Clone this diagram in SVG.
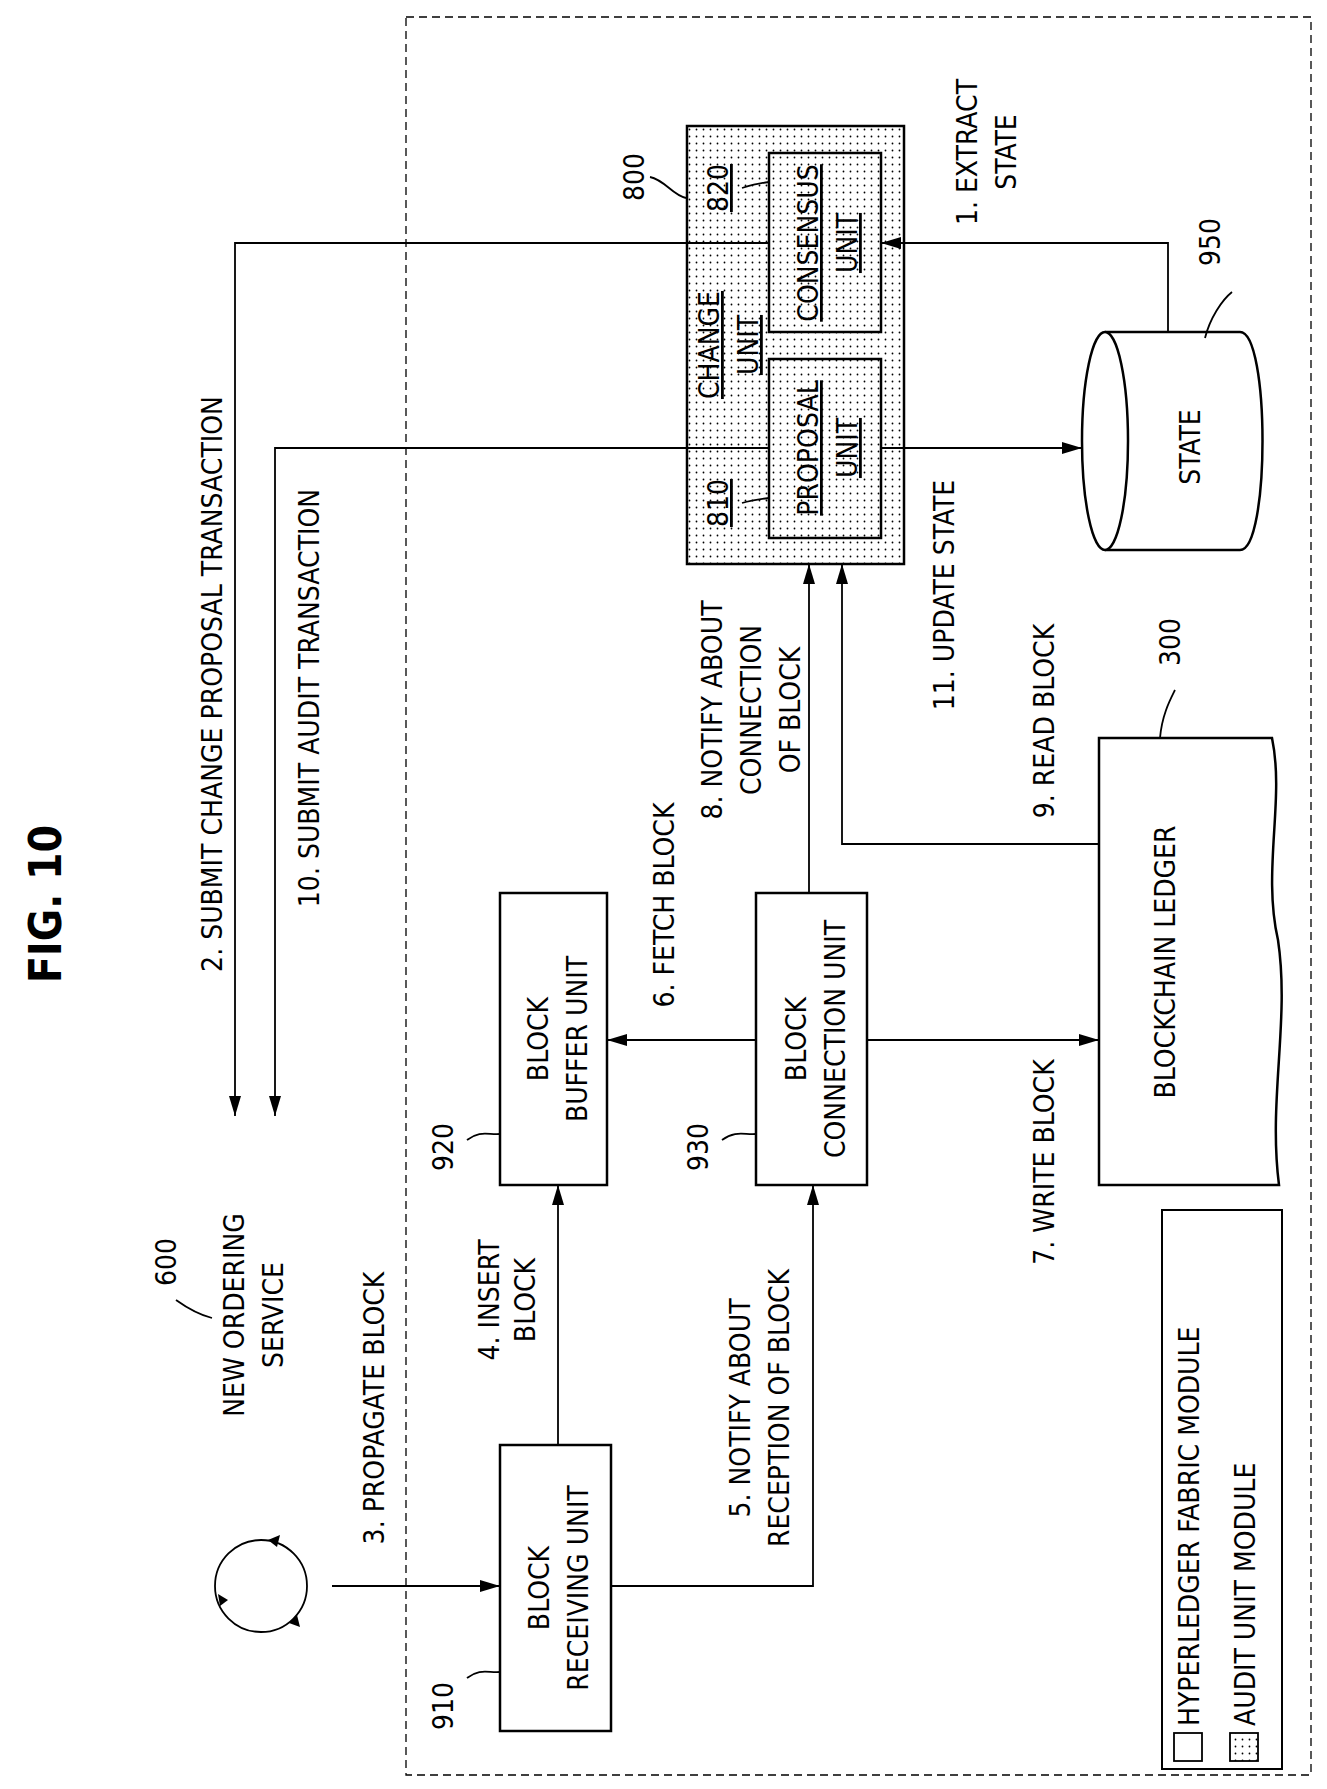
<svg xmlns="http://www.w3.org/2000/svg" width="1327" height="1789" viewBox="0 0 1327 1789">
<style>
.b{fill:none;stroke:#000;stroke-width:2.5}
.w{fill:#fff;stroke:#000;stroke-width:2.5}
.l{fill:none;stroke:#000;stroke-width:1.8}
.t{font-family:"DejaVu Sans Condensed","DejaVu Sans",sans-serif;font-size:28px;fill:#000;text-anchor:middle}
.u{text-decoration:underline}
</style>
<defs>
<pattern id="dots" width="7" height="7" patternUnits="userSpaceOnUse"><rect width="7" height="7" fill="#fff"/><circle cx="3.5" cy="3.5" r="0.9" fill="#000"/></pattern>
<marker id="A" viewBox="0 0 10 10" refX="10" refY="5" markerWidth="20" markerHeight="20" orient="auto" markerUnits="userSpaceOnUse"><path d="M0,2 L10,5 L0,8 z" fill="#000"/></marker>
</defs>
<rect x="0" y="0" width="1327" height="1789" fill="#fff"/>
<rect x="406" y="17" width="905" height="1758" fill="none" stroke="#000" stroke-width="1.3" stroke-dasharray="8,5"/>
<text class="t" style="font-size:44px;font-weight:bold" transform="translate(61,904) rotate(-90)">FIG. 10</text>

<g id="n800">
<rect x="687" y="126" width="217" height="438" fill="url(#dots)" stroke="#000" stroke-width="2.5"/>
<text class="t u" transform="translate(719,345) rotate(-90)">CHANGE</text>
<text class="t u" transform="translate(758,345) rotate(-90)">UNIT</text>
<text class="t u" transform="translate(728,188) rotate(-90)">820</text>
<text class="t u" transform="translate(728,503) rotate(-90)">810</text>
<path class="l" d="M650,177 C665,180 672,195 686,198"/>
<text class="t" transform="translate(644,177) rotate(-90)">800</text>
</g>
<g id="n820">
<rect x="769" y="153" width="112" height="179" fill="url(#dots)" stroke="#000" stroke-width="2.5"/>
<text class="t u" transform="translate(818,243) rotate(-90)">CONSENSUS</text>
<text class="t u" transform="translate(857,243) rotate(-90)">UNIT</text>
<path class="l" d="M742,188 C752,185 760,183 769,182"/>
</g>
<g id="n810">
<rect x="769" y="359" width="112" height="179" fill="url(#dots)" stroke="#000" stroke-width="2.5"/>
<text class="t u" transform="translate(818,448) rotate(-90)">PROPOSAL</text>
<text class="t u" transform="translate(857,448) rotate(-90)">UNIT</text>
<path class="l" d="M742,503 C752,500 760,499 769,498"/>
</g>

<g id="n950">
<path class="w" d="M1105,332 L1240,332 C1270,332 1270,550 1240,550 L1105,550"/>
<ellipse class="w" cx="1105" cy="441" rx="23" ry="109"/>
<text class="t" transform="translate(1200,447) rotate(-90)">STATE</text>
<path class="l" d="M1205,338 C1210,318 1222,300 1232,292"/>
<text class="t" transform="translate(1220,242) rotate(-90)">950</text>
</g>

<g id="n300">
<path class="w" d="M1099,738 L1272,738 C1285,800 1262,870 1278,940 C1290,1020 1268,1100 1279,1185 L1099,1185 Z"/>
<text class="t" transform="translate(1175,962) rotate(-90)">BLOCKCHAIN LEDGER</text>
<path class="l" d="M1160,738 C1162,715 1170,700 1175,690"/>
<text class="t" transform="translate(1180,642) rotate(-90)">300</text>
</g>

<g id="n920">
<rect class="w" x="500" y="893" width="107" height="292"/>
<text class="t" transform="translate(548,1039) rotate(-90)">BLOCK</text>
<text class="t" transform="translate(587,1039) rotate(-90)">BUFFER UNIT</text>
<path class="l" d="M467,1140 C480,1130 488,1135 500,1134"/>
<text class="t" transform="translate(453,1147) rotate(-90)">920</text>
</g>
<g id="n930">
<rect class="w" x="756" y="893" width="111" height="292"/>
<text class="t" transform="translate(806,1039) rotate(-90)">BLOCK</text>
<text class="t" transform="translate(845,1039) rotate(-90)">CONNECTION UNIT</text>
<path class="l" d="M722,1140 C736,1130 744,1135 756,1134"/>
<text class="t" transform="translate(708,1147) rotate(-90)">930</text>
</g>
<g id="n910">
<rect class="w" x="500" y="1445" width="111" height="286"/>
<text class="t" transform="translate(549,1588) rotate(-90)">BLOCK</text>
<text class="t" transform="translate(588,1588) rotate(-90)">RECEIVING UNIT</text>
<path class="l" d="M467,1678 C480,1668 488,1673 500,1672"/>
<text class="t" transform="translate(453,1706) rotate(-90)">910</text>
</g>

<g id="n600">
<circle class="l" cx="261" cy="1586" r="46"/>
<path d="M268,1540 l12,-5 l-3,12 z" fill="#000"/>
<path d="M297,1615 l3,12 l-11,-4 z" fill="#000"/>
<path d="M220,1606 l-2,-12 l10,6 z" fill="#000"/>
<text class="t" transform="translate(176,1262) rotate(-90)">600</text>
<path class="l" d="M176,1300 C190,1310 200,1315 212,1318"/>
<text class="t" transform="translate(244,1315) rotate(-90)">NEW ORDERING</text>
<text class="t" transform="translate(283,1315) rotate(-90)">SERVICE</text>
</g>

<g id="labels">
<text class="t" transform="translate(222,684) rotate(-90)">2. SUBMIT CHANGE PROPOSAL TRANSACTION</text>
<text class="t" transform="translate(319,698) rotate(-90)">10. SUBMIT AUDIT TRANSACTION</text>
<text class="t" transform="translate(384,1408) rotate(-90)">3. PROPAGATE BLOCK</text>
<text class="t" transform="translate(499,1300) rotate(-90)">4. INSERT</text>
<text class="t" transform="translate(535,1300) rotate(-90)">BLOCK</text>
<text class="t" transform="translate(750,1408) rotate(-90)">5. NOTIFY ABOUT</text>
<text class="t" transform="translate(789,1408) rotate(-90)">RECEPTION OF BLOCK</text>
<text class="t" transform="translate(674,905) rotate(-90)">6. FETCH BLOCK</text>
<text class="t" transform="translate(1054,1162) rotate(-90)">7. WRITE BLOCK</text>
<text class="t" transform="translate(722,710) rotate(-90)">8. NOTIFY ABOUT</text>
<text class="t" transform="translate(761,710) rotate(-90)">CONNECTION</text>
<text class="t" transform="translate(800,710) rotate(-90)">OF BLOCK</text>
<text class="t" transform="translate(1054,721) rotate(-90)">9. READ BLOCK</text>
<text class="t" transform="translate(954,595) rotate(-90)">11. UPDATE STATE</text>
<text class="t" transform="translate(977,152) rotate(-90)">1. EXTRACT</text>
<text class="t" transform="translate(1016,152) rotate(-90)">STATE</text>
</g>

<g id="legend">
<rect x="1162" y="1210" width="120" height="559" fill="none" stroke="#000" stroke-width="2"/>
<rect x="1174" y="1733" width="28" height="28" fill="#fff" stroke="#000" stroke-width="1.8"/>
<rect x="1230" y="1733" width="28" height="28" fill="url(#dots)" stroke="#000" stroke-width="1.8"/>
<text class="t" style="text-anchor:start" transform="translate(1199,1726) rotate(-90)">HYPERLEDGER FABRIC MODULE</text>
<text class="t" style="text-anchor:start" transform="translate(1255,1726) rotate(-90)">AUDIT UNIT MODULE</text>
</g>

<g id="connectors">
<polyline class="l" points="769,243 235,243 235,1116" marker-end="url(#A)"/>
<polyline class="l" points="1168,332 1168,243 881,243" marker-end="url(#A)"/>
<polyline class="l" points="769,448 275,448 275,1116" marker-end="url(#A)"/>
<line class="l" x1="881" y1="448" x2="1082" y2="448" marker-end="url(#A)"/>
<line class="l" x1="809" y1="893" x2="809" y2="564" marker-end="url(#A)"/>
<polyline class="l" points="1099,844 842,844 842,564" marker-end="url(#A)"/>
<line class="l" x1="332" y1="1586" x2="500" y2="1586" marker-end="url(#A)"/>
<line class="l" x1="558" y1="1445" x2="558" y2="1185" marker-end="url(#A)"/>
<polyline class="l" points="611,1586 813,1586 813,1185" marker-end="url(#A)"/>
<line class="l" x1="756" y1="1040" x2="607" y2="1040" marker-end="url(#A)"/>
<line class="l" x1="867" y1="1040" x2="1099" y2="1040" marker-end="url(#A)"/>
</g>
</svg>
